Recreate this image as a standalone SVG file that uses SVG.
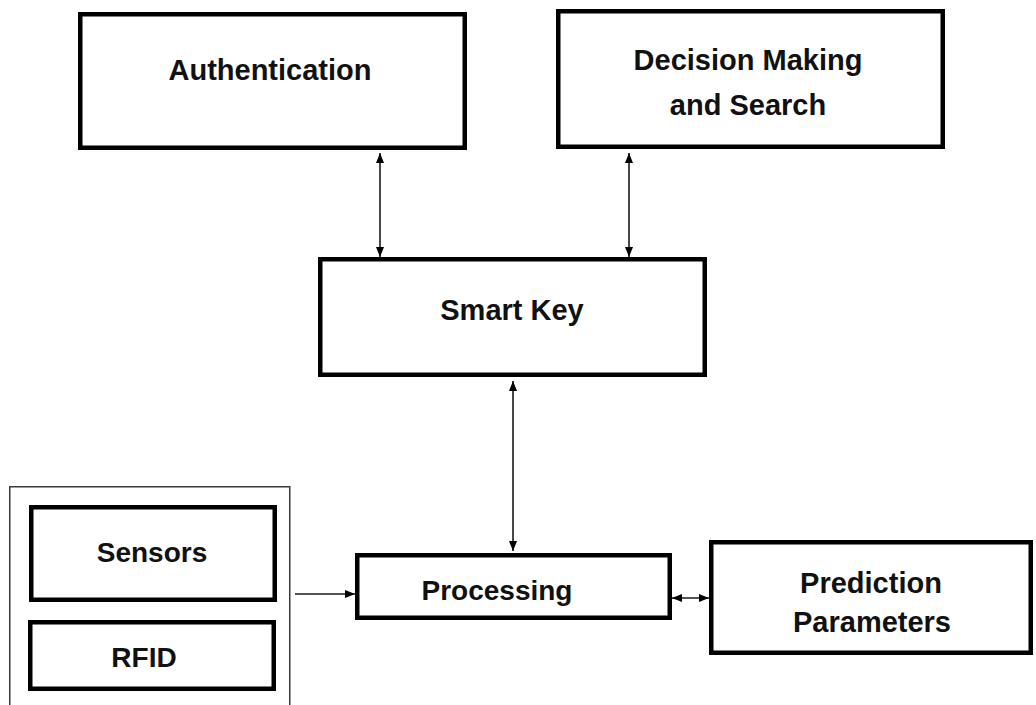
<svg xmlns="http://www.w3.org/2000/svg" width="1036" height="705" viewBox="0 0 1036 705">
  <style>
    .box { fill: #ffffff; stroke: #000000; stroke-width: 4.5; }
    .frame { fill: #ffffff; stroke: #3a3a3a; stroke-width: 1.5; }
    .label { font-family: "Liberation Sans", Arial, sans-serif; font-weight: bold; font-size: 29px; fill: #111111; text-anchor: middle; }
    .small { font-size: 28px; }
    .link { fill: none; stroke: #1a1a1a; stroke-width: 1.6; }
  </style>
  <defs>
    <marker id="head" viewBox="0 0 10 8" refX="10" refY="4" markerWidth="10" markerHeight="8" markerUnits="userSpaceOnUse" orient="auto-start-reverse">
      <path d="M0,0 L10,4 L0,8 Z" fill="#000000"/>
    </marker>
  </defs>

  <rect width="1036" height="705" fill="#ffffff"/>

  <!-- input group frame holding the sensing units -->
  <g id="inputs">
    <rect class="frame" x="9.75" y="486.75" width="280" height="230"/>
  </g>

  <g id="authentication">
    <rect class="box" x="80.25" y="14.25" width="384.5" height="133.5"/>
    <text class="label" x="270" y="80">Authentication</text>
  </g>

  <g id="decision">
    <rect class="box" x="558.25" y="11.25" width="384.5" height="135.5"/>
    <text class="label" x="748" y="70">Decision Making</text>
    <text class="label" x="748" y="115">and Search</text>
  </g>

  <g id="smart-key">
    <rect class="box" x="320.25" y="259.25" width="384.5" height="115.5"/>
    <text class="label" x="512" y="320">Smart Key</text>
  </g>

  <g id="processing">
    <rect class="box" x="357.25" y="555.25" width="312.5" height="62.5"/>
    <text class="label small" x="497" y="600">Processing</text>
  </g>

  <g id="prediction">
    <rect class="box" x="711.25" y="542.25" width="319.5" height="110.5"/>
    <text class="label" x="871" y="593">Prediction</text>
    <text class="label" x="872" y="632">Parameters</text>
  </g>

  <g id="sensors">
    <rect class="box" x="31.25" y="507.25" width="243.5" height="92.5"/>
    <text class="label small" x="152" y="562">Sensors</text>
  </g>

  <g id="rfid">
    <rect class="box" x="30.25" y="622.25" width="243.5" height="66.5"/>
    <text class="label small" x="144" y="667">RFID</text>
  </g>

  <g id="connectors">
    <path class="link" d="M380,153 L380,257" marker-start="url(#head)" marker-end="url(#head)"/>
    <path class="link" d="M629,153 L629,257" marker-start="url(#head)" marker-end="url(#head)"/>
    <path class="link" d="M513,381 L513,551" marker-start="url(#head)" marker-end="url(#head)"/>
    <path class="link" d="M295,594 L355,594" marker-end="url(#head)"/>
    <path class="link" d="M672,598 L709,598" marker-start="url(#head)" marker-end="url(#head)"/>
  </g>
</svg>
